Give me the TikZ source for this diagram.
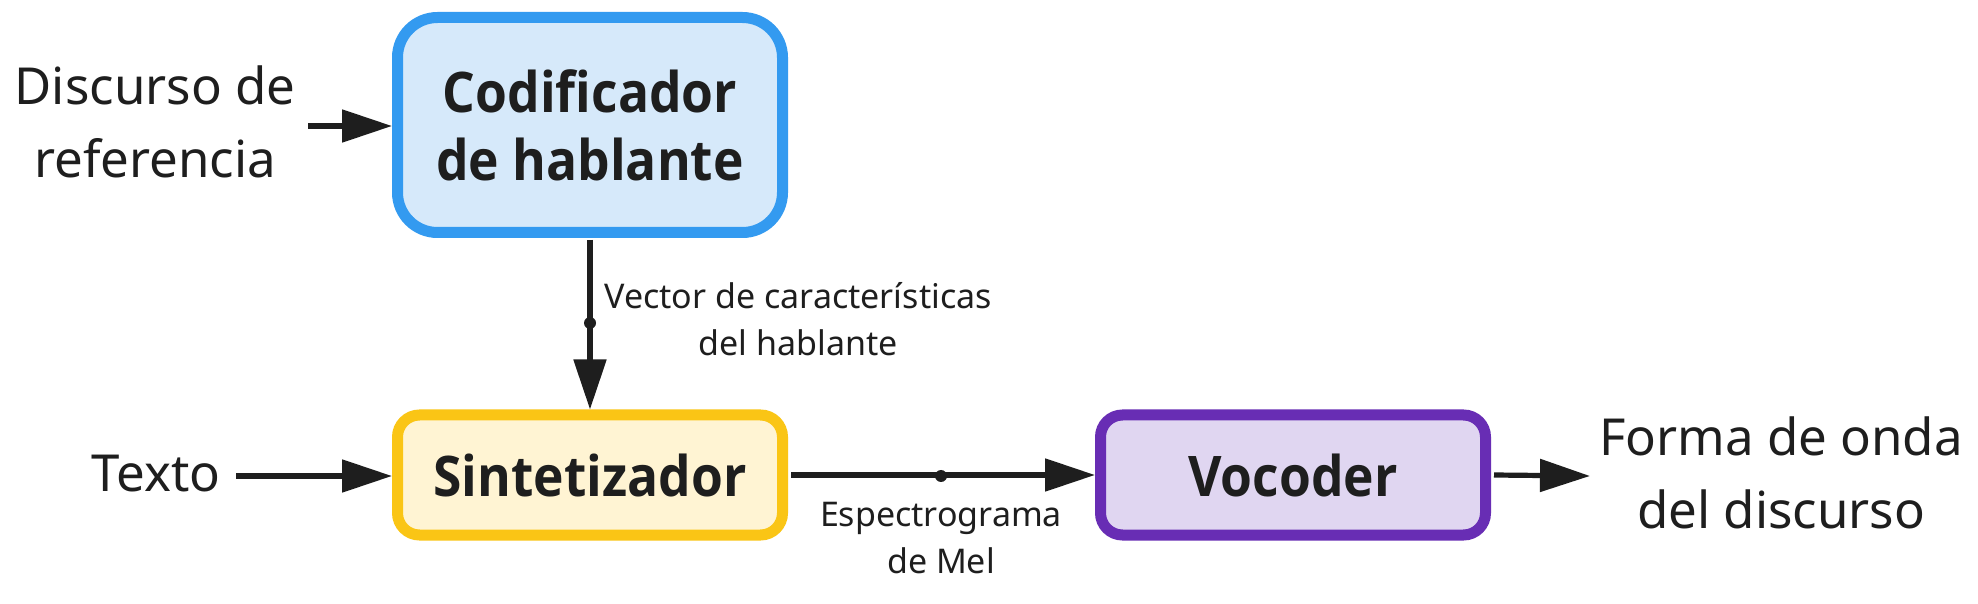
\documentclass[tikz,border=0pt]{standalone}
\usepackage{fontspec}
\setmainfont{Noto Sans}
\newfontfamily\boxfont{Open Sans}[FakeStretch=0.92]
\usetikzlibrary{arrows.meta}
\definecolor{ink}{HTML}{1E1E1E}
\definecolor{blueB}{HTML}{339AF0}
\definecolor{blueF}{HTML}{D6E9FA}
\definecolor{yelB}{HTML}{FAC515}
\definecolor{yelF}{HTML}{FFF4D3}
\definecolor{purB}{HTML}{682DB4}
\definecolor{purF}{HTML}{E0D6F1}
\tikzset{
  box/.style={rectangle, line width=5.5pt, minimum width=192.5pt, text=ink,
    font=\fontsize{28}{34}\boxfont\bfseries, align=center, inner sep=0pt},
  big/.style={text=ink, font=\fontsize{25.5}{36.5}\selectfont, align=center, inner sep=0pt},
  small/.style={text=ink, font=\fontsize{17}{23.25}\selectfont, align=center, inner sep=0pt},
  conn/.style={draw=ink, line width=2.6pt, -{Triangle[length=25pt,width=16pt]}, shorten >=0pt},
  dotc/.style={circle, fill=ink, inner sep=0pt, minimum size=6pt}
}
\begin{document}
\begin{tikzpicture}[x=0.5pt,y=-0.5pt]
\useasboundingbox (0,0) rectangle (1978,604);
\fill[white] (0,0) rectangle (1978,604);
% boxes
\node[box, draw=blueB, fill=blueF, minimum height=107.5pt, rounded corners=20pt] (enc) at (590,125) {Codificador\\de hablante};
\node[box, draw=yelB, fill=yelF, minimum height=60pt, rounded corners=11pt] (syn) at (590,475) {Sintetizador};
\node[box, draw=purB, fill=purF, minimum height=60pt, rounded corners=11pt] (voc) at (1293,475) {Vocoder};
% texts
\node[big] (ref) at (155,122) {Discurso de\\referencia};
\node[big] (txt) at (156,474) {Texto};
\node[big] (out) at (1781,473) {Forma de onda\\del discurso};
% coordinates
\coordinate (refA) at (308,126);
\coordinate (txtA) at (236,476);
\coordinate (outA) at (1590,476);
\node[dotc] (d1) at (590,323) {};
\node[dotc] (d2) at (941,476) {};
% connectors
\draw[conn] (refA) -- (refA -| enc.west);
\draw[conn] (txtA) -- (txtA -| syn.west);
\draw[conn] (enc.south) ++(0,2) -- (syn.north);
\draw[conn] (syn.east) ++(3,0) -- (voc.west);
\draw[conn] (voc.east) ++(3,0) -- (outA);
% labels
\node[small, anchor=west] (lv) at ([xshift=7pt,yshift=2pt]d1.center) {Vector de características\\del hablante};
\node[small, anchor=north] (lm) at ([yshift=-13pt]d2.center) {Espectrograma\\de Mel};
\end{tikzpicture}
\end{document}
